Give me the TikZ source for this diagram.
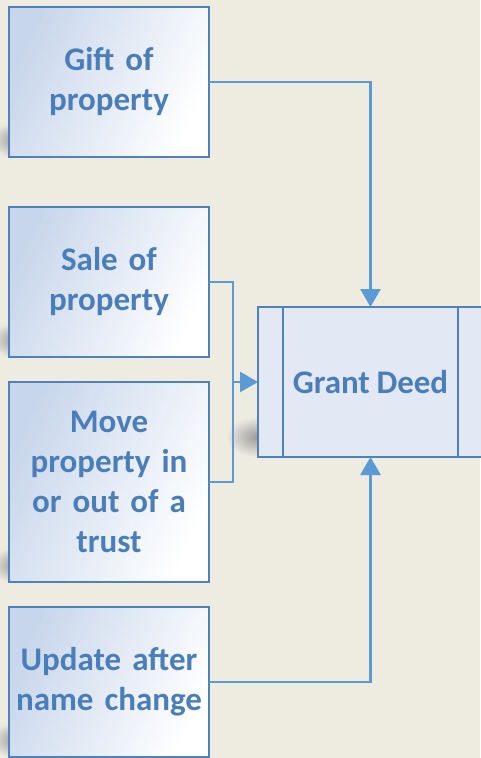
\documentclass[tikz,border=0pt]{standalone}
\usepackage{fontspec}
\setmainfont{Carlito}
\usetikzlibrary{arrows.meta}
\definecolor{paper}{HTML}{EEEBE0}
\definecolor{boxline}{HTML}{4F81BD}
\definecolor{boxtext}{HTML}{4A7EBB}
\definecolor{boxtop}{HTML}{C8D6EB}
\definecolor{deedfill}{HTML}{E2E8F4}
\definecolor{flow}{HTML}{5B9BD5}
\newcommand{\boxfont}{\fontsize{33}{40}\selectfont\bfseries\spaceskip=0.2em}
\begin{document}
\begin{tikzpicture}[x=1pt, y=-1pt, inner sep=0pt, outer sep=0pt,
  srcbox/.style={draw=boxline, line width=2pt, top color=boxtop, bottom color=white, shading angle=65,
    minimum width=200pt, minimum height=150pt, text width=196pt, align=center,
    text=boxtext, font=\boxfont},
  flowline/.style={draw=flow, line width=2.8pt},
  flowarrow/.style={flowline, -{Triangle[length=18pt,width=20pt]}},
  shade/.style={inner color=black!40, outer color=paper}]
\useasboundingbox[fill=paper] (0,0) rectangle (480,758);
% soft shadows behind the boxes
\foreach \sy in {140,340,565,740}
  \shade[shade] (16,\sy) ellipse (26pt and 18pt);
\shade[shade] (258,437) ellipse (32pt and 20pt);
% sources
\node[srcbox] (gift) at (109,82) {Gift of\\property};
\node[srcbox] (sale) at (109,282) {Sale of\\property};
\node[srcbox, minimum height=200pt] (trust) at (109,482) {Move\\property in\\or out of a\\trust};
\node[srcbox] (update) at (109,682) {Update after\\name change};
% target
\node[draw=boxline, line width=2pt, fill=deedfill, minimum width=225pt, minimum height=150pt,
  text=boxtext, font=\boxfont] (deed) at (370.5,382) {Grant Deed};
\draw[boxline, line width=2pt] ([xshift=25pt]deed.north west) -- ([xshift=25pt]deed.south west);
\draw[boxline, line width=2pt] ([xshift=-25pt]deed.north east) -- ([xshift=-25pt]deed.south east);
% connectors
\coordinate (join) at (233,382);
\draw[flowarrow] (gift.east) -| (deed.north);
\draw[flowline] (sale.east) -| (join) |- (trust.east);
\draw[flowarrow] (join) -- (deed.west);
\draw[flowarrow] (update.east) -| (deed.south);
\end{tikzpicture}
\end{document}
